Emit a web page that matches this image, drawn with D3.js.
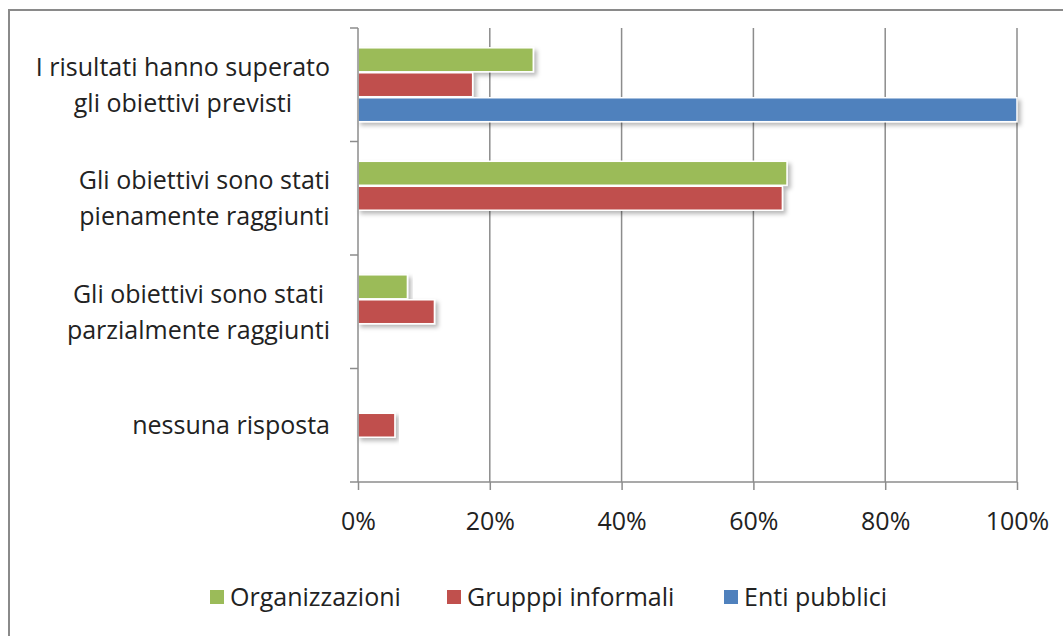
<!DOCTYPE html>
<html>
<head>
<meta charset="utf-8">
<script src="https://cdn.jsdelivr.net/npm/d3@7"></script>
<style>
body { margin: 0; background: #fff; }
text { font-family: "Open Sans", "Noto Sans", sans-serif; fill: #222; }
</style>
</head>
<body>
<svg width="1063" height="636"></svg>
<script>
// categories, top to bottom
var categories = [
  ["I risultati hanno superato", "gli obiettivi previsti"],
  ["Gli obiettivi sono stati", "pienamente raggiunti"],
  ["Gli obiettivi sono stati", "parzialmente raggiunti"],
  ["nessuna risposta"]
];
var seriesNames = ["Organizzazioni", "Gruppi informali", "Enti pubblici"];
var legendLabels = ["Organizzazioni", "Grupppi informali", "Enti pubblici"];
var organizzazioni = [26.6, 65.1, 7.5, 0];
var gruppiInformali = [17.4, 64.4, 11.6, 5.6];
var entiPubblici = [100, 0, 0, 0];
var xTicks = [0, 20, 40, 60, 80, 100];

var colors = ["#9BBB59", "#C0504D", "#4F81BD"];
var seriesValues = [organizzazioni, gruppiInformali, entiPubblici];
var fontSize = 25;

var svg = d3.select("svg"),
    margin = {top: 28, left: 358, right: 46, bottom: 154},
    width = 1063 - margin.left - margin.right,
    height = 636 - margin.top - margin.bottom;

var defs = svg.append("defs");
var filter = defs.append("filter").attr("id", "shadow")
    .attr("x", "-5%").attr("y", "-30%").attr("width", "115%").attr("height", "170%");
filter.append("feDropShadow")
    .attr("dx", 3).attr("dy", 3).attr("stdDeviation", 2)
    .attr("flood-color", "#000").attr("flood-opacity", 0.28);

// outer frame
svg.append("rect")
    .attr("x", 9).attr("y", 10)
    .attr("width", 1070).attr("height", 640)
    .attr("fill", "none").attr("stroke", "#8a8a8a").attr("stroke-width", 2);

var x = d3.scaleLinear().domain([0, 100]).range([0, width]);
var y = d3.scaleBand().domain(d3.range(categories.length)).range([0, height])
    .paddingInner(0.34).paddingOuter(0.17);
var ySub = d3.scaleBand().domain(d3.range(seriesNames.length)).range([0, y.bandwidth()]);

var g = svg.append("g").attr("transform", "translate(" + margin.left + "," + margin.top + ")");

// vertical gridlines
g.selectAll(".grid").data(xTicks.slice(1)).enter().append("line")
    .attr("x1", function(d) { return x(d); }).attr("x2", function(d) { return x(d); })
    .attr("y1", 0).attr("y2", height)
    .attr("stroke", "#8c8c8c").attr("stroke-width", 1.5);

// bars
var rows = [];
categories.forEach(function(c, i) {
  seriesValues.forEach(function(vals, s) {
    if (vals[i] > 0) rows.push({cat: i, s: s, v: vals[i]});
  });
});
g.selectAll(".bar").data(rows).enter().append("rect")
    .attr("x", 0)
    .attr("y", function(d) { return y(d.cat) + ySub(d.s) + 0.5; })
    .attr("width", function(d) { return x(d.v); })
    .attr("height", ySub.bandwidth() - 1)
    .attr("fill", function(d) { return colors[d.s]; })
    .attr("stroke", "#fff").attr("stroke-width", 1.5)
    .attr("filter", "url(#shadow)");

// y axis line and category ticks
var step = height / categories.length;
g.append("line").attr("x1", 0).attr("x2", 0).attr("y1", 0).attr("y2", height)
    .attr("stroke", "#8c8c8c").attr("stroke-width", 1.5);
g.selectAll(".ytick").data(d3.range(categories.length)).enter().append("line")
    .attr("x1", -8).attr("x2", 0)
    .attr("y1", function(d) { return d * step; }).attr("y2", function(d) { return d * step; })
    .attr("stroke", "#8c8c8c").attr("stroke-width", 1.5);

// x axis
var xAxis = d3.axisBottom(x).tickValues(xTicks)
    .tickFormat(function(d) { return d + "%"; }).tickSize(8).tickPadding(22);
var ax = g.append("g").attr("transform", "translate(0," + height + ")").call(xAxis);
ax.select(".domain").attr("stroke", "#8c8c8c").attr("stroke-width", 1.5).attr("d", "M-8,0H" + width);
ax.selectAll(".tick line").attr("stroke", "#8c8c8c").attr("stroke-width", 1.5);
ax.selectAll(".tick text").attr("font-size", fontSize).attr("fill", "#222")
    .attr("font-family", "'Open Sans', 'Noto Sans', sans-serif");

// category labels: lines centred on each other, block right-aligned
var lab = g.selectAll(".cat").data(categories).enter().append("text")
    .attr("text-anchor", "middle")
    .attr("font-size", fontSize);
lab.selectAll("tspan").data(function(d) { return d; }).enter().append("tspan")
    .attr("x", 0)
    .attr("y", function(d, j, arr) { return (j - (arr.length - 1) / 2) * 36; })
    .attr("dy", "0.35em")
    .text(function(d) { return d; });
lab.attr("transform", function(d, i) {
  var w = d3.max(d3.select(this).selectAll("tspan").nodes(), function(n) { return n.getComputedTextLength(); });
  return "translate(" + (-28 - w / 2) + "," + (y(i) + y.bandwidth() / 2) + ")";
});

// legend
var legendX = [210, 447, 724];
var leg = svg.append("g").attr("transform", "translate(0,597)");
var item = leg.selectAll(".leg").data(legendLabels).enter().append("g")
    .attr("transform", function(d, i) { return "translate(" + legendX[i] + ",0)"; });
item.append("rect").attr("x", 0).attr("y", -7).attr("width", 14).attr("height", 14)
    .attr("fill", function(d, i) { return colors[i]; });
item.append("text").attr("x", 20).attr("dy", "0.35em").attr("font-size", fontSize)
    .text(function(d) { return d; });
</script>
</body>
</html>
